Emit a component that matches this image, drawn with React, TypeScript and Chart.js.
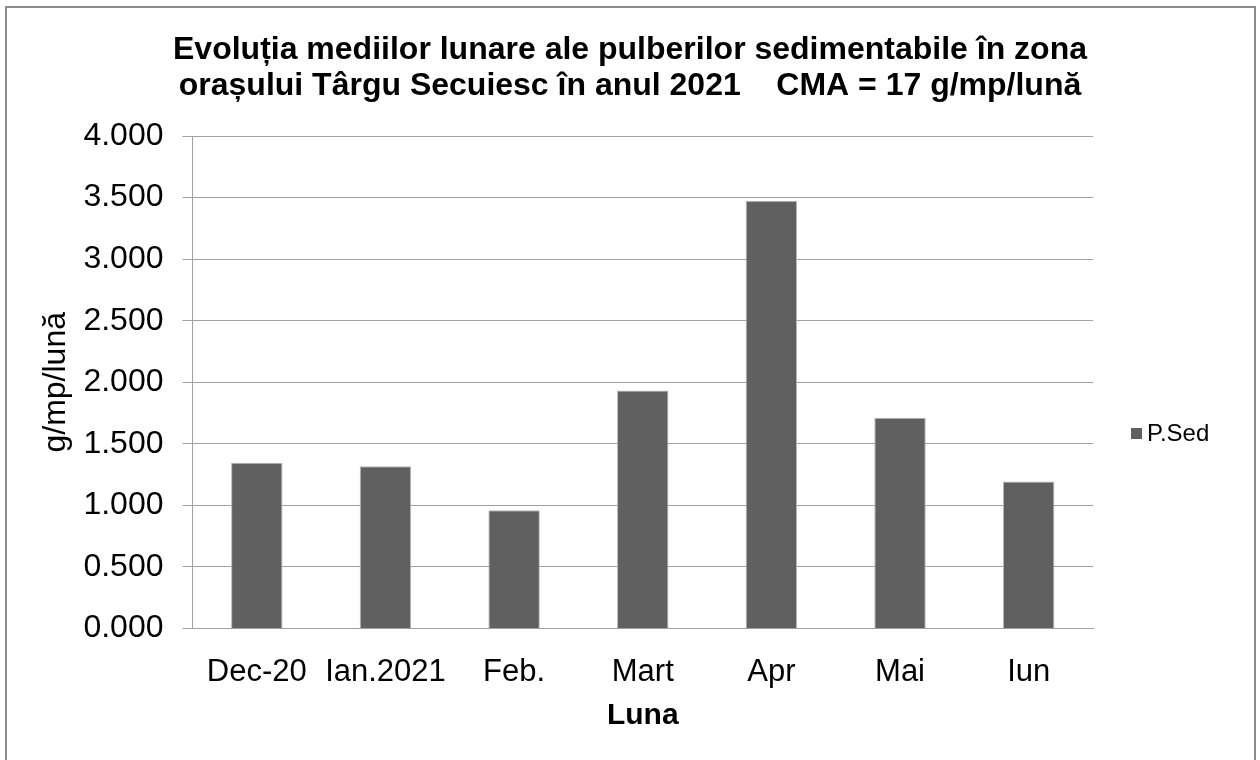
import React, { useEffect, useRef } from "react";
import { Chart, registerables } from "chart.js";

Chart.register(...registerables);

const categories = ["Dec-20", "Ian.2021", "Feb.", "Mart", "Apr", "Mai", "Iun"];
const seriesLabel = "P.Sed";
const seriesValues = [1.347, 1.318, 0.96, 1.932, 3.475, 1.712, 1.193];
const titleLines = [
  "Evoluția mediilor lunare ale pulberilor sedimentabile în zona",
  "orașului Târgu Secuiesc în anul 2021    CMA = 17 g/mp/lună",
];
const yAxisTitle = "g/mp/lună";
const xAxisTitle = "Luna";
const yMin = 0;
const yMax = 4;
const yStep = 0.5;

const FONT = '"Liberation Sans", Arial, sans-serif';
const BAR_COLOR = "#606060";

const framePlugin = {
  id: "frame",
  beforeDraw(chart: any) {
    const ctx = chart.ctx;
    ctx.save();
    ctx.fillStyle = "#ffffff";
    ctx.fillRect(0, 0, chart.width, chart.height);
    ctx.strokeStyle = "#8a8a8a";
    ctx.lineWidth = 2;
    ctx.strokeRect(6, 7, 1249, 770);
    ctx.restore();
  },
};

const legendPlugin = {
  id: "sideLegend",
  afterDraw(chart: any) {
    const ctx = chart.ctx;
    const ds = chart.data.datasets[0];
    ctx.save();
    ctx.fillStyle = ds.backgroundColor;
    ctx.fillRect(1131, 428, 11, 11);
    ctx.fillStyle = "#000000";
    ctx.font = `24px ${FONT}`;
    ctx.textBaseline = "middle";
    ctx.textAlign = "left";
    ctx.fillText(ds.label, 1147, 434);
    ctx.restore();
  },
};

export default function App() {
  const ref = useRef<HTMLCanvasElement | null>(null);

  useEffect(() => {
    if (!ref.current) return;
    Chart.defaults.font.family = FONT;
    const chart = new Chart(ref.current, {
      type: "bar",
      data: {
        labels: categories,
        datasets: [
          {
            label: seriesLabel,
            data: seriesValues,
            backgroundColor: BAR_COLOR,
            borderColor: "#b8b8b8",
            borderWidth: 1,
            barPercentage: 0.4,
            categoryPercentage: 1,
            yAxisID: "y",
          },
        ],
      },
      options: {
        responsive: false,
        animation: false,
        devicePixelRatio: 1,
        layout: { padding: { left: 0, right: 0, top: 0, bottom: 0 } },
        plugins: {
          legend: { display: false },
          tooltip: { enabled: false },
          title: {
            display: true,
            text: titleLines,
            color: "#000000",
            font: { size: 32, weight: "bold", family: FONT, lineHeight: 1.1 },
            padding: { top: 33, bottom: 32.6 },
          },
        },
        scales: {
          x: {
            grid: { display: false, drawTicks: false, tickLength: 0 },
            border: { display: true, color: "#a0a0a0", width: 1 },
            ticks: {
              color: "#000000",
              font: { size: 31, family: FONT },
              padding: 25,
              maxRotation: 0,
              autoSkip: false,
            },
            title: {
              display: true,
              text: xAxisTitle,
              color: "#000000",
              font: { size: 30, weight: "bold", family: FONT },
              padding: { top: 0, bottom: 26 },
            },
            afterFit: (scale: any) => {
              scale.height = 131.5;
            },
          },
          y: {
            min: yMin,
            max: yMax,
            grid: { color: "#a0a0a0", lineWidth: 1, drawTicks: true, tickLength: 10 },
            border: { display: true, color: "#a0a0a0", width: 1 },
            ticks: {
              stepSize: yStep,
              color: "#000000",
              font: { size: 32, family: FONT },
              padding: 19,
              callback: (v: any) => Number(v).toFixed(3),
            },
            title: {
              display: true,
              text: yAxisTitle,
              color: "#000000",
              font: { size: 32, family: FONT },
              padding: { top: 37, bottom: 0 },
            },
            afterFit: (scale: any) => {
              scale.width = 192.5;
            },
          },
          legendSpace: {
            type: "linear",
            position: "right",
            display: true,
            grid: { display: false, drawTicks: false },
            border: { display: false },
            ticks: { display: false },
            afterFit: (scale: any) => {
              scale.width = 167;
            },
          },
        },
      },
      plugins: [framePlugin, legendPlugin],
    });
    return () => chart.destroy();
  }, []);

  return (
    <div style={{ position: "fixed", left: 0, top: 0, width: 1260, height: 760 }}>
      <canvas ref={ref} width={1260} height={760} style={{ width: 1260, height: 760 }} />
    </div>
  );
}
